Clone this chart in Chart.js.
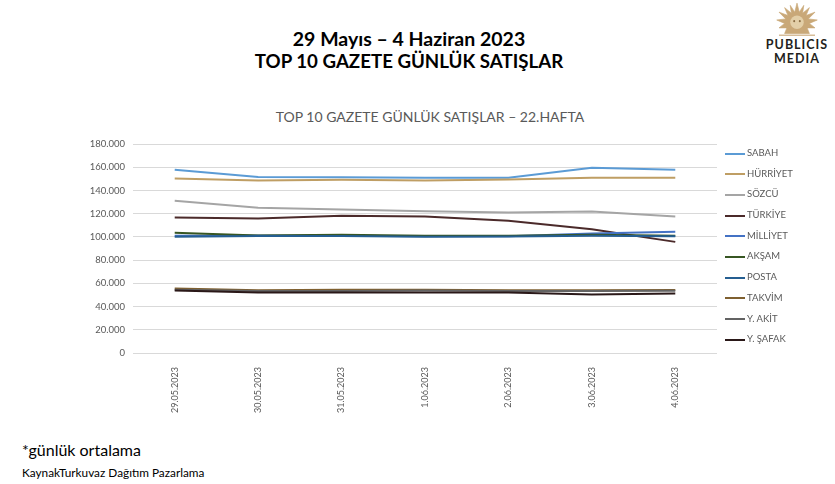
<!DOCTYPE html>
<html>
<head>
<meta charset="utf-8">
<script src="https://cdn.jsdelivr.net/npm/chart.js@4/dist/chart.umd.min.js"></script>
<style>
  body { margin: 0; width: 835px; height: 484px; background: #fff; position: relative; overflow: hidden; font-family: Lato, 'Open Sans', sans-serif; }
  .head { position: absolute; left: 0; width: 818px; text-align: center; font-weight: bold; font-size: 19.5px; color: #000; }
  #chartTitle { position: absolute; left: 230px; width: 400px; top: 108px; text-align: center; font-size: 14px; color: #595959; }
  #wrap { position: absolute; left: 0; top: 130px; }
  #legend { position: absolute; left: 725px; top: 143px; font-size: 9.5px; color: #595959; }
  #legend div { height: 20.7px; line-height: 20.7px; white-space: nowrap; }
  #legend span.sw { display: inline-block; width: 20px; height: 2px; vertical-align: middle; margin-right: 2px; }
  .foot { position: absolute; left: 22px; color: #000; }
  #logo { position: absolute; left: 762px; top: 2px; width: 70px; text-align: center; color: #231f20; font-weight: bold; font-size: 12.5px; letter-spacing: 1px; line-height: 14px; }
</style>
</head>
<body>
<div class="head" style="top:27px">29 Mayıs – 4 Haziran 2023</div>
<div class="head" style="top:50px;font-size:18.7px">TOP 10 GAZETE GÜNLÜK SATIŞLAR</div>
<div id="logo">
  <svg width="46" height="36" viewBox="0 0 40 32" style="display:block;margin:0 auto">
    <g fill="#c9a878" stroke="#c9a878">
      <path d="M20 1 L22 9 L26 3 L25 10 L31 5 L28 12 L36 9 L30 15 L38 16 L31 19 L36 23 L29 23 L31 28 L9 28 L11 23 L4 23 L9 19 L2 16 L10 15 L4 9 L12 12 L9 5 L15 10 L14 3 L18 9 Z" stroke-width="0.6"/>
    </g>
    <circle cx="20" cy="18" r="6" fill="#e3cfa8"/>
    <circle cx="17.5" cy="17" r="0.9" fill="#8a6d43"/>
    <circle cx="22.5" cy="17" r="0.9" fill="#8a6d43"/>
    <rect x="4" y="29" width="32" height="1" fill="#c9a878"/>
  </svg>
  <div>PUBLICIS</div>
  <div>MEDIA</div>
</div>
<div id="chartTitle">TOP 10 GAZETE GÜNLÜK SATIŞLAR – 22.HAFTA</div>
<div id="wrap"><canvas id="chart" width="835" height="285"></canvas></div>
<div id="legend"></div>
<div class="foot" style="top:440px;font-size:16px">*günlük ortalama</div>
<div class="foot" style="top:465px;font-size:11.8px">KaynakTurkuvaz Dağıtım Pazarlama</div>
<script>
  const days = ['29.05.2023', '30.05.2023', '31.05.2023', '1.06.2023', '2.06.2023', '3.06.2023', '4.06.2023'];
  const papers = ['SABAH', 'HÜRRİYET', 'SÖZCÜ', 'TÜRKİYE', 'MİLLİYET', 'AKŞAM', 'POSTA', 'TAKVİM', 'Y. AKİT', 'Y. ŞAFAK'];
  const colors = ['#5b9bd5', '#bf9e64', '#a5a5a5', '#4b2a2a', '#4472c4', '#375623', '#255e91', '#7f6030', '#636363', '#2a1818'];

  const sabah    = [157900, 151500, 151400, 151000, 151000, 159600, 157800];
  const hurriyet = [150200, 148500, 149200, 148600, 149400, 151000, 151000];
  const sozcu    = [131200, 125200, 123500, 122000, 121000, 121800, 117500];
  const turkiye  = [116600, 115800, 118300, 117500, 113800, 106600, 95700];
  const milliyet = [101000, 101200, 101000, 100500, 100500, 103000, 104500];
  const aksam    = [103500, 101200, 101800, 101000, 101000, 101800, 101000];
  const posta    = [100200, 100800, 100800, 100200, 100400, 101000, 100600];
  const takvim   = [55500, 54000, 54500, 54500, 54000, 54000, 54200];
  const yakit    = [54500, 53500, 53500, 53800, 53500, 53500, 53700];
  const ysafak   = [53800, 52200, 52200, 52200, 52000, 50400, 51300];
  const series = [sabah, hurriyet, sozcu, turkiye, milliyet, aksam, posta, takvim, yakit, ysafak];

  const fmt = v => v.toLocaleString('de-DE');

  let ctx = document.querySelector('#chart');
  let lineChart = new Chart(ctx, {
    type: 'line',
    data: {
      labels: days,
      datasets: series.map((data, i) => ({
        label: papers[i],
        data: data,
        borderColor: colors[i],
        backgroundColor: colors[i],
        borderWidth: 2,
        pointRadius: 0,
        tension: 0,
        order: -i
      }))
    },
    options: {
      responsive: false,
      animation: false,
      layout: { padding: { top: 14, right: 118, left: 0, bottom: 0 } },
      plugins: { legend: { display: false }, title: { display: false }, tooltip: { enabled: false } },
      scales: {
        x: {
          offset: true,
          grid: { display: false },
          border: { display: false },
          ticks: { autoSkip: false, minRotation: 90, maxRotation: 90, padding: 6, color: '#595959', font: { family: 'Lato', size: 9 } },
          afterFit: s => { s.height = 62; }
        },
        y: {
          min: 0, max: 180000,
          grid: { color: '#d9d9d9', drawTicks: false },
          border: { display: false },
          ticks: { stepSize: 20000, padding: 8, color: '#595959', font: { family: 'Lato', size: 9.5 }, callback: v => fmt(v) },
          afterFit: s => { s.width = 133; }
        }
      }
    }
  });

  // legend built from the chart's datasets
  document.querySelector('#legend').innerHTML = lineChart.data.datasets
    .map(d => `<div><span class="sw" style="background:${d.borderColor}"></span>${d.label}</div>`).join('');
</script>
</body>
</html>
